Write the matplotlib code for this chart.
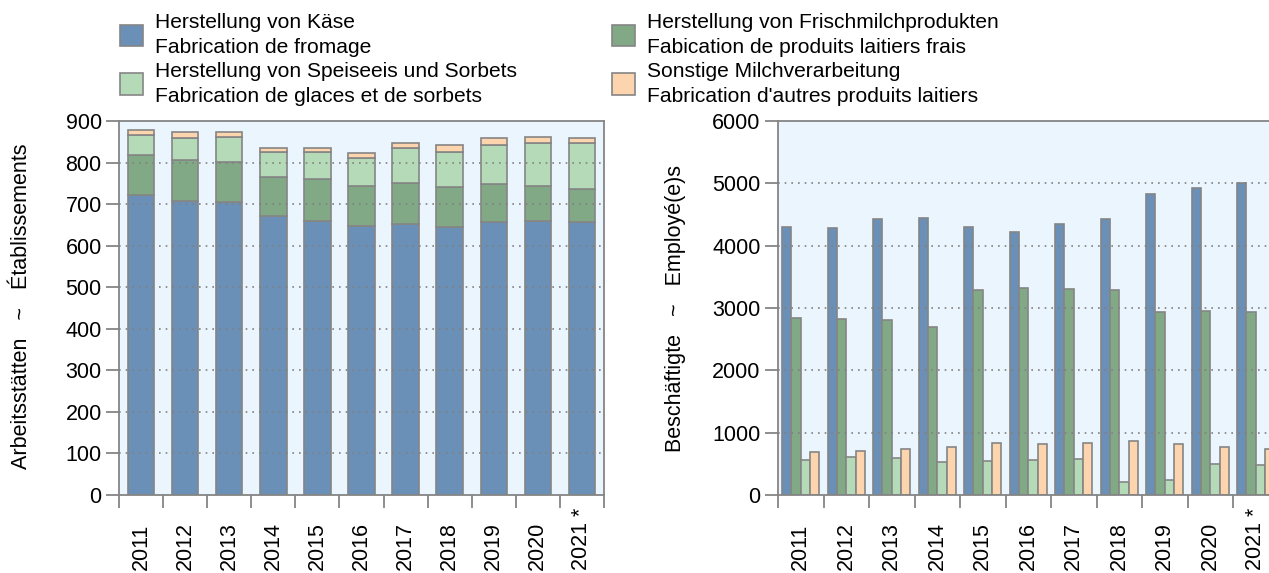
import numpy as np
import matplotlib
matplotlib.use('Agg')
import matplotlib.pyplot as plt
from matplotlib.patches import Patch

plt.rcParams['font.family'] = ['Liberation Sans', 'DejaVu Sans']

# data
years = ['2011', '2012', '2013', '2014', '2015', '2016', '2017', '2018', '2019', '2020', '2021 *']

# Arbeitsstätten / Établissements
kaese_est = [722, 708, 705, 672, 660, 648, 652, 645, 656, 660, 657]
frisch_est = [96, 97, 96, 93, 101, 96, 100, 97, 93, 84, 80]
glace_est = [48, 54, 61, 61, 64, 67, 82, 84, 94, 103, 109]
sonst_est = [12, 15, 12, 10, 10, 11, 13, 17, 15, 15, 13]

# Beschäftigte / Employé(e)s
kaese_emp = [4306, 4286, 4425, 4451, 4297, 4227, 4350, 4425, 4826, 4923, 5013]
frisch_emp = [2840, 2829, 2808, 2700, 3285, 3328, 3306, 3285, 2940, 2957, 2935]
glace_emp = [568, 606, 590, 536, 546, 568, 579, 209, 236, 498, 477]
sonst_emp = [686, 712, 744, 777, 831, 820, 841, 873, 820, 777, 744]

labels = ['Herstellung von Käse\nFabrication de fromage',
          'Herstellung von Frischmilchprodukten\nFabication de produits laitiers frais',
          'Herstellung von Speiseeis und Sorbets\nFabrication de glaces et de sorbets',
          "Sonstige Milchverarbeitung\nFabrication d'autres produits laitiers"]
colors = ['#6b90b8', '#81a985', '#b5dab7', '#fcd4ae']
edge = '#858585'
bg = '#ebf5fd'
fs = 15.5

W, H = 1269, 573
fig = plt.figure(figsize=(W / 100, H / 100), dpi=100)

def px(x0, y0, x1, y1):
    return [x0 / W, 1 - y1 / H, (x1 - x0) / W, (y1 - y0) / H]

ax1 = fig.add_axes(px(119, 121, 604, 495))
ax2 = fig.add_axes(px(778, 121, 1278.5, 495))

x = np.arange(len(years)) + 0.5

# stacked bars on the left
bottom = np.zeros(len(years))
for vals, c in zip([kaese_est, frisch_est, glace_est, sonst_est], colors):
    ax1.bar(x, vals, 0.6, bottom=bottom, color=c, edgecolor=edge, linewidth=1.2, zorder=2)
    bottom += np.array(vals)

# grouped bars on the right
w = 0.205
for i, (vals, c) in enumerate(zip([kaese_emp, frisch_emp, glace_emp, sonst_emp], colors)):
    ax2.bar(x + (i - 1.5) * w, vals, w, color=c, edgecolor=edge, linewidth=1.2, zorder=2)

def style(ax, ymax, step):
    ax.set_facecolor(bg)
    ax.set_xlim(0, len(years))
    ax.set_ylim(0, ymax)
    ax.set_yticks(np.arange(0, ymax + 1, step))
    for s in ax.spines.values():
        s.set_color(edge)
        s.set_linewidth(1.3)
    for g in np.arange(step, ymax, step):
        ax.axhline(g, color='#808080', lw=1.2, ls=(0, (1, 3)), zorder=3)
    ax.set_xticks(np.arange(0, len(years) + 1))
    ax.set_xticklabels([])
    ax.set_xticks(x, minor=True)
    ax.set_xticklabels(years, minor=True, rotation=90, fontsize=fs)
    for t in ax.get_xticklabels(minor=True):
        t.set_va('bottom')
    ax.tick_params(axis='x', which='minor', length=0, pad=54)
    ax.tick_params(axis='both', which='major', length=9.5, width=1.3, color=edge, labelsize=fs, pad=3)

style(ax1, 900, 100)
style(ax2, 6000, 1000)

fig.text(22 / W, 1 - 306 / H, 'Arbeitsstätten   ~   Établissements', rotation=90,
         ha='center', va='center', fontsize=fs)
fig.text(676 / W, 1 - 308 / H, 'Beschäftigte   ~   Employé(e)s', rotation=90,
         ha='center', va='center', fontsize=fs)

# legend, two columns
handles = [Patch(facecolor=c, edgecolor=edge, linewidth=1.2) for c in colors]
for cols, xpos in [([0, 2], 120), ([1, 3], 612)]:
    leg = fig.legend([handles[i] for i in cols], [labels[i] for i in cols],
                     loc='upper left', bbox_to_anchor=(xpos / W, 1 - 13 / H),
                     frameon=False, fontsize=15.1, borderpad=0, borderaxespad=0,
                     handlelength=1.1, handleheight=1.2, handletextpad=0.55,
                     labelspacing=0.25)
    for t in leg.get_texts():
        t.set_linespacing(1.38)

plt.savefig('out.png', dpi=100)
